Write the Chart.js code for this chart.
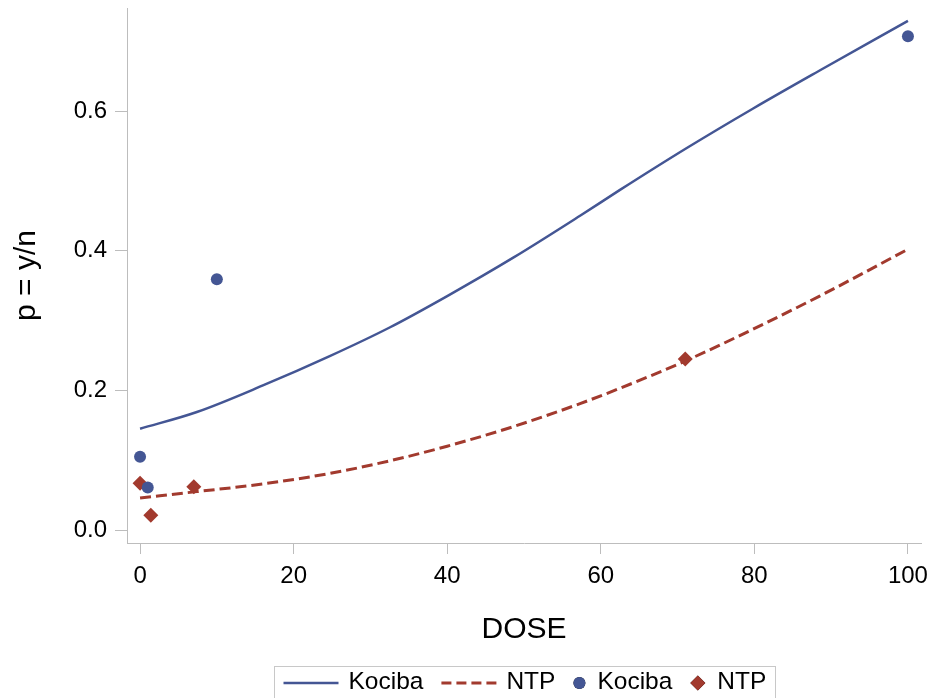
<!DOCTYPE html>
<html>
<head>
<meta charset="utf-8">
<script src="https://cdn.jsdelivr.net/npm/chart.js@4.4.1/dist/chart.umd.min.js"></script>
<style>
  html, body { margin: 0; padding: 0; background: #fff; }
  #wrap { position: relative; width: 930px; height: 698px; }
</style>
</head>
<body>
<div id="wrap"><canvas id="chart"></canvas></div>
<script>
// observed proportions p = y/n
const kocibaDose = [0, 1, 10, 100];
const kocibaP = [0.105, 0.061, 0.359, 0.707];
const ntpDose = [0, 1.4, 7, 71];
const ntpP = [0.067, 0.021, 0.062, 0.245];

// fitted dose-response curves
const fitDose = [0, 7.4, 16, 24.7, 32.5, 40, 48.6, 57.3, 62.5, 71.2, 79.9, 88.5, 100];
const kocibaFit = [0.145, 0.169, 0.207, 0.249, 0.290, 0.335, 0.390, 0.450, 0.487, 0.547, 0.604, 0.658, 0.729];
const ntpFit = [0.046, 0.055, 0.066, 0.081, 0.099, 0.120, 0.148, 0.181, 0.203, 0.243, 0.288, 0.335, 0.402];

// axis ticks
const xTicks = [0, 20, 40, 60, 80, 100];
const yTicks = [0, 0.2, 0.4, 0.6];

const BLUE = '#445694';
const RED = '#A23A2E';
const AXIS = '#bdbdbd';
const FONT = "'Liberation Sans', Arial, sans-serif";

Chart.defaults.font.family = FONT;
Chart.defaults.color = '#000';

const pts = (xs, ys) => xs.map((x, i) => ({ x: x, y: ys[i] }));

// legend with a thin frame, drawn under the axis title
const legendBox = {
  id: 'legendBox',
  afterDraw(chart) {
    const ctx = chart.ctx;
    const area = chart.chartArea;
    const pad = 9, itemGap = 18;
    ctx.save();
    ctx.font = '24.5px ' + FONT;
    const items = chart.data.datasets.map(ds => {
      const isLine = ds.type === 'line';
      const symW = isLine ? 55 : ds.pointRadius * 2;
      const gap = isLine ? 10 : 12;
      return { ds, isLine, symW, gap, textW: ctx.measureText(ds.label).width };
    });
    let total = pad * 2 + itemGap * (items.length - 1);
    items.forEach(it => { total += it.symW + it.gap + it.textW; });
    const cx = (area.left + area.right) / 2;
    const left = Math.round(cx - total / 2) + 0.5;
    const top = 666.5;
    const midY = 683;

    ctx.strokeStyle = '#c8c8c8';
    ctx.lineWidth = 1;
    ctx.strokeRect(left, top, Math.round(total), 50);

    let x = left + pad;
    items.forEach(it => {
      const ds = it.ds;
      if (it.isLine) {
        ctx.beginPath();
        ctx.setLineDash(ds.borderDash ? [10, 5] : []);
        ctx.strokeStyle = ds.borderColor;
        ctx.lineWidth = ds.borderWidth;
        ctx.moveTo(x, midY);
        ctx.lineTo(x + it.symW, midY);
        ctx.stroke();
        ctx.setLineDash([]);
      } else {
        Chart.helpers.drawPoint(ctx, {
          pointStyle: ds.pointStyle,
          radius: ds.pointRadius,
          borderWidth: 0
        }, x + it.symW / 2, midY);
        ctx.fillStyle = ds.backgroundColor;
        ctx.fill();
      }
      x += it.symW + it.gap;
      ctx.fillStyle = '#000';
      ctx.textBaseline = 'middle';
      ctx.textAlign = 'left';
      ctx.fillText(ds.label, x, midY - 1);
      x += it.textW + itemGap;
    });
    ctx.restore();
  }
};

new Chart(document.getElementById('chart'), {
  data: {
    datasets: [
      {
        type: 'line', label: 'Kociba', data: pts(fitDose, kocibaFit),
        borderColor: BLUE, borderWidth: 2.5, pointRadius: 0,
        cubicInterpolationMode: 'monotone', order: 2
      },
      {
        type: 'line', label: 'NTP', data: pts(fitDose, ntpFit),
        borderColor: RED, borderWidth: 3, borderDash: [11, 5], pointRadius: 0,
        cubicInterpolationMode: 'monotone', order: 2
      },
      {
        type: 'scatter', label: 'Kociba', data: pts(kocibaDose, kocibaP),
        pointStyle: 'circle', pointRadius: 6, backgroundColor: BLUE,
        borderWidth: 0, order: 1
      },
      {
        type: 'scatter', label: 'NTP', data: pts(ntpDose, ntpP),
        pointStyle: 'rectRot', pointRadius: 7.5, backgroundColor: RED,
        borderWidth: 0, order: 1
      }
    ]
  },
  options: {
    responsive: true,
    maintainAspectRatio: false,
    animation: false,
    layout: { padding: { top: 8, right: 9, bottom: 0, left: 0 } },
    plugins: {
      legend: { display: false },
      tooltip: { enabled: false }
    },
    scales: {
      x: {
        type: 'linear',
        min: -1.7,
        max: 101.7,
        afterBuildTicks: s => { s.ticks = xTicks.map(v => ({ value: v })); },
        afterFit: s => { s.height = 155; s.paddingLeft = 0; s.paddingRight = 0; },
        grid: { drawOnChartArea: false, drawTicks: true, tickLength: 11, color: AXIS },
        border: { color: AXIS, width: 1 },
        ticks: { padding: 8, font: { size: 24 }, color: '#000' },
        title: {
          display: true, text: 'DOSE', color: '#000',
          font: { size: 30 }, padding: { top: 0, bottom: 50 }
        }
      },
      y: {
        type: 'linear',
        min: -0.0186,
        max: 0.7475,
        afterBuildTicks: s => { s.ticks = yTicks.map(v => ({ value: v })); },
        afterFit: s => { s.width = 127; s.paddingTop = 0; s.paddingBottom = 0; },
        grid: { drawOnChartArea: false, drawTicks: true, tickLength: 12, color: AXIS },
        border: { color: AXIS, width: 1 },
        ticks: {
          padding: 8, font: { size: 24 }, color: '#000',
          callback: v => v.toFixed(1)
        },
        title: {
          display: true, text: 'p = y/n', color: '#000',
          font: { size: 30 }, padding: { top: 9, bottom: 0 }
        }
      }
    }
  },
  plugins: [legendBox]
});
</script>
</body>
</html>
